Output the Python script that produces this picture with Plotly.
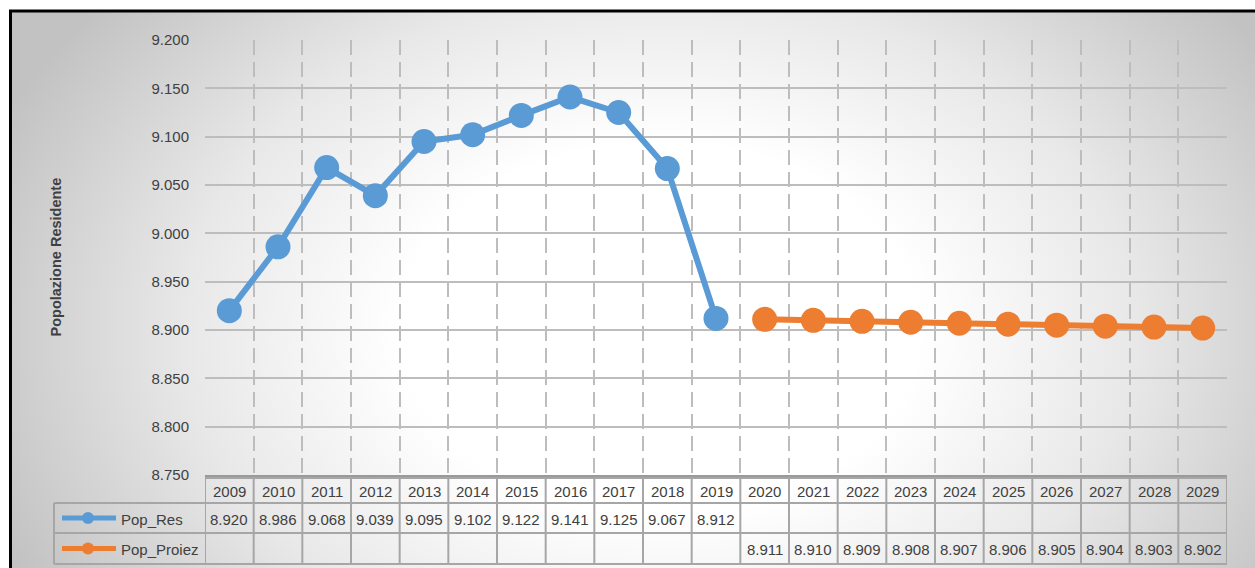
import base64
import plotly.graph_objects as go

# ---------------- data ----------------
years = [2009, 2010, 2011, 2012, 2013, 2014, 2015, 2016, 2017, 2018, 2019,
         2020, 2021, 2022, 2023, 2024, 2025, 2026, 2027, 2028, 2029]
res_years = [2009, 2010, 2011, 2012, 2013, 2014, 2015, 2016, 2017, 2018, 2019]
pop_res = [8920, 8986, 9068, 9039, 9095, 9102, 9122, 9141, 9125, 9067, 8912]
proj_years = [2020, 2021, 2022, 2023, 2024, 2025, 2026, 2027, 2028, 2029]
pop_proiez = [8911, 8910, 8909, 8908, 8907, 8906, 8905, 8904, 8903, 8902]
series_names = ["Pop_Res", "Pop_Proiez"]
y_title = "Popolazione Residente"

# ---------------- styling ----------------
W, H = 1255, 568
L, R, T, B = 205, 28, 40, 93
PW, PH = W - L - R, H - T - B
BLUE = "#5B9BD5"
ORANGE = "#ED7D31"
TXT = "#404040"
FONT = "Liberation Sans, Arial, sans-serif"
TABLE_LINE = "#a6a6a6"


def px_x(px):
    return (px - L) / PW


def px_y(py):
    return (H - B - py) / PH


fig = go.Figure()

# background radial gradient (SVG image)
svg = f"""<svg xmlns='http://www.w3.org/2000/svg' width='{W}' height='{H}' viewBox='0 0 {W} {H}'>
<defs><radialGradient id='g' gradientUnits='userSpaceOnUse' cx='660' cy='330' r='720'
 gradientTransform='translate(660 330) scale(1 0.72) translate(-660 -330)'>
<stop offset='0' stop-color='#ffffff'/><stop offset='0.36' stop-color='#ffffff'/>
<stop offset='0.66' stop-color='#e8e8e8'/><stop offset='0.9' stop-color='#cdcdcd'/>
<stop offset='1' stop-color='#c2c2c2'/>
</radialGradient></defs>
<rect x='0' y='0' width='{W}' height='{H}' fill='#ffffff'/>
<rect x='10' y='11' width='{W}' height='{H}' fill='url(#g)'/></svg>"""
src = "data:image/svg+xml;base64," + base64.b64encode(svg.encode()).decode()
fig.add_layout_image(dict(source=src, xref="paper", yref="paper",
                          x=px_x(0), y=px_y(0), sizex=W / PW, sizey=H / PH,
                          xanchor="left", yanchor="top", sizing="stretch",
                          layer="below"))

# series
fig.add_trace(go.Scatter(x=res_years, y=pop_res, name=series_names[0],
                         mode="lines+markers",
                         line=dict(color=BLUE, width=6),
                         marker=dict(color=BLUE, size=25),
                         cliponaxis=False))
fig.add_trace(go.Scatter(x=proj_years, y=pop_proiez, name=series_names[1],
                         mode="lines+markers",
                         line=dict(color=ORANGE, width=6),
                         marker=dict(color=ORANGE, size=25),
                         cliponaxis=False))

bounds = [y - 0.5 for y in years] + [years[-1] + 0.5]

shapes = []
annotations = []

# border
shapes.append(dict(type="rect", xref="paper", yref="paper",
                   x0=px_x(10.5), x1=px_x(W + 20), y0=px_y(H + 20), y1=px_y(11),
                   line=dict(color="black", width=3), fillcolor="rgba(0,0,0,0)"))

# data table
row_tops = [478, 503, 533, 564]
shapes.append(dict(type="line", xref="x", yref="paper", x0=bounds[0], x1=bounds[-1],
                   y0=px_y(row_tops[0]), y1=px_y(row_tops[0]),
                   line=dict(color=TABLE_LINE, width=2)))
for ry in row_tops[1:]:
    shapes.append(dict(type="line", xref="paper", yref="paper", x0=px_x(54), x1=1,
                       y0=px_y(ry), y1=px_y(ry),
                       line=dict(color=TABLE_LINE, width=2)))
for bx in bounds:
    shapes.append(dict(type="line", xref="x", yref="paper", x0=bx, x1=bx,
                       y0=px_y(row_tops[0]), y1=px_y(row_tops[-1]),
                       line=dict(color=TABLE_LINE, width=2)))
shapes.append(dict(type="line", xref="paper", yref="paper", x0=px_x(54), x1=px_x(54),
                   y0=px_y(row_tops[1]), y1=px_y(row_tops[-1]),
                   line=dict(color=TABLE_LINE, width=2)))

tfont = dict(family=FONT, size=15, color=TXT)
hdr_y = px_y(491)
row1_y = px_y(519)
row2_y = px_y(549.5)


def fmt(v):
    return f"{v:,}".replace(",", ".")


for yr in years:
    annotations.append(dict(x=yr, y=hdr_y, xref="x", yref="paper", text=str(yr),
                            showarrow=False, font=tfont, xanchor="center", yanchor="middle"))
for yr, v in zip(res_years, pop_res):
    annotations.append(dict(x=yr, y=row1_y, xref="x", yref="paper", text=fmt(v),
                            showarrow=False, font=tfont, xanchor="center", yanchor="middle"))
for yr, v in zip(proj_years, pop_proiez):
    annotations.append(dict(x=yr, y=row2_y, xref="x", yref="paper", text=fmt(v),
                            showarrow=False, font=tfont, xanchor="center", yanchor="middle"))

# legend keys inside table
for name, color, yy in [(series_names[0], BLUE, 518), (series_names[1], ORANGE, 548.5)]:
    shapes.append(dict(type="line", xref="paper", yref="paper",
                       x0=px_x(62), x1=px_x(116), y0=px_y(yy), y1=px_y(yy),
                       line=dict(color=color, width=5)))
    shapes.append(dict(type="circle", xref="paper", yref="paper",
                       x0=px_x(82), x1=px_x(94), y0=px_y(yy + 6), y1=px_y(yy - 6),
                       fillcolor=color, line=dict(width=0)))
    annotations.append(dict(x=px_x(119), y=px_y(yy + 1), xref="paper", yref="paper",
                            text=name, showarrow=False, font=tfont,
                            xanchor="left", yanchor="middle"))

# y axis title
annotations.append(dict(x=px_x(55), y=0.5, xref="paper", yref="paper", text=f"<b>{y_title}</b>",
                        textangle=-90, showarrow=False,
                        font=dict(family=FONT, size=14.5, color=TXT),
                        xanchor="center", yanchor="middle"))

fig.update_layout(
    width=W, height=H,
    margin=dict(l=L, r=R, t=T, b=B, autoexpand=False),
    paper_bgcolor="white",
    plot_bgcolor="rgba(0,0,0,0)",
    separators=",.",
    showlegend=False,
    shapes=shapes,
    annotations=annotations,
    xaxis=dict(range=[bounds[0], bounds[-1]], tickvals=bounds, showticklabels=False,
               showgrid=True, gridcolor="#bdbdbd", gridwidth=2, griddash="15px,7px",
               showline=True, linecolor="#9a9a9a", linewidth=2, ticks="",
               zeroline=False, fixedrange=True),
    yaxis=dict(range=[8750, 9200], dtick=50, tick0=8750, tickformat=",d",
               showgrid=True, gridcolor="#bdbdbd", gridwidth=1.5,
               showline=False, zeroline=False,
               ticks="outside", ticklen=12, tickcolor="rgba(0,0,0,0)",
               tickfont=dict(family=FONT, size=15, color=TXT), fixedrange=True),
)

fig.write_html("out.html")
